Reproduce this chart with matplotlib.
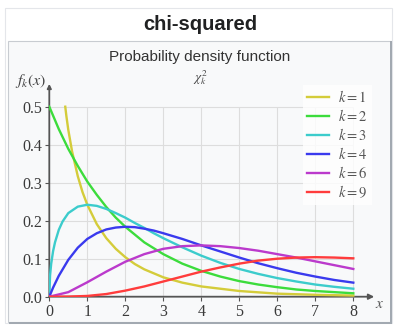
import matplotlib.pyplot as plt
from matplotlib.patches import Rectangle

W, H = 394, 326

# chi-squared densities
x_k1 = [0.42, 0.45, 0.5, 0.6, 0.75, 0.875, 1, 1.25, 1.5, 1.75, 2, 2.25, 2.5, 3,
        3.5, 4, 5, 6, 7, 8]
y_k1 = [0.500, 0.475, 0.439, 0.382, 0.317, 0.275, 0.242, 0.191, 0.154, 0.126,
        0.104, 0.086, 0.072, 0.051, 0.037, 0.027, 0.015, 0.008, 0.005, 0.003]

x_k2 = [0, 0.25, 0.5, 0.75, 1, 1.25, 1.5, 1.75, 2, 2.5, 3, 3.5, 4, 4.5, 5, 5.5,
        6, 6.5, 7, 7.5, 8]
y_k2 = [0.500, 0.441, 0.389, 0.344, 0.303, 0.268, 0.236, 0.208, 0.184, 0.143,
        0.112, 0.087, 0.068, 0.053, 0.041, 0.032, 0.025, 0.019, 0.015, 0.012,
        0.009]

x_k3 = [0, 0.02, 0.05, 0.1, 0.15, 0.25, 0.35, 0.5, 0.75, 1, 1.25, 1.5, 1.75, 2,
        2.25, 2.5, 2.75, 3, 3.5, 4, 4.5, 5, 5.5, 6, 6.5, 7, 7.5, 8]
y_k3 = [0.0, 0.056, 0.087, 0.120, 0.143, 0.176, 0.198, 0.220, 0.237, 0.242,
        0.239, 0.231, 0.220, 0.208, 0.194, 0.181, 0.167, 0.154, 0.130, 0.108,
        0.089, 0.073, 0.060, 0.049, 0.040, 0.032, 0.026, 0.021]

x_k4 = [0, 0.1, 0.25, 0.5, 0.75, 1, 1.25, 1.5, 1.75, 2, 2.25, 2.5, 2.75, 3, 3.5,
        4, 4.5, 5, 5.5, 6, 6.5, 7, 7.5, 8]
y_k4 = [0.0, 0.024, 0.055, 0.097, 0.129, 0.152, 0.167, 0.177, 0.182, 0.184,
        0.183, 0.179, 0.174, 0.167, 0.152, 0.135, 0.119, 0.103, 0.088, 0.075,
        0.063, 0.053, 0.044, 0.037]

x_half = [0, 0.5, 1, 1.5, 2, 2.5, 3, 3.5, 4, 4.5, 5, 5.5, 6, 6.5, 7, 7.5, 8]
y_k6 = [0.0, 0.012, 0.038, 0.066, 0.092, 0.112, 0.126, 0.133, 0.135, 0.133,
        0.128, 0.121, 0.112, 0.103, 0.093, 0.083, 0.073]
y_k9 = [0.0, 0.0003, 0.002, 0.007, 0.016, 0.027, 0.040, 0.053, 0.066, 0.077,
        0.087, 0.095, 0.100, 0.103, 0.104, 0.103, 0.101]

labels = ['$k=1$', '$k=2$', '$k=3$', '$k=4$', '$k=6$', '$k=9$']
colors = ['#d4cc3a', '#3cdc3c', '#3ccccc', '#3a3aee', '#bb3acc', '#ff3c3c']

xticks = [0, 1, 2, 3, 4, 5, 6, 7, 8]
yticks = [0.0, 0.1, 0.2, 0.3, 0.4, 0.5]


def fx(px):
    return px / W


def fy(py):
    return 1 - py / H


plt.rcParams['mathtext.fontset'] = 'stix'
fig = plt.figure(figsize=(W / 100, H / 100), dpi=100)
fig.patch.set_facecolor('white')

# infobox frame
fig.patches.append(Rectangle((fx(5), fy(323)), fx(387), 315 / H, transform=fig.transFigure,
                             facecolor='white', edgecolor='#e4e6ea', lw=0.8, zorder=-3))
fig.patches.append(Rectangle((fx(8), fy(322)), fx(383), 281 / H, transform=fig.transFigure,
                             facecolor='#f8f9fa', edgecolor='#c8ccd1', lw=0.8, zorder=-2))
fig.patches.append(Rectangle((fx(9), fy(324)), fx(383), 2 / H, transform=fig.transFigure,
                             facecolor='#a2a9b1', edgecolor='none', zorder=-1))
fig.patches.append(Rectangle((fx(390), fy(323)), 2 / W, 282 / H, transform=fig.transFigure,
                             facecolor='#a2a9b1', edgecolor='none', zorder=-1))

fig.text(fx(200), fy(24), 'chi-squared', ha='center', va='center', fontsize=14.5,
         fontweight='bold', family='Liberation Sans', color='#202122')
fig.text(fx(200), fy(57), 'Probability density function', ha='center', va='center',
         fontsize=11, family='Liberation Sans', color='#333333')
fig.text(fx(200), fy(78), r'$\chi^2_k$', ha='center', va='center', fontsize=9.5, color='#444444')
fig.text(fx(31), fy(81), r'$f_k(x)$', ha='center', va='center', fontsize=11.5, color='#444444')

ax = fig.add_axes([fx(49.3), fy(296.7), 38 * 8.5 / W, 0.56 * 380 / H])
ax.set_zorder(1)
ax.patch.set_alpha(0)
ax.set_xlim(0, 8.5)
ax.set_ylim(0, 0.56)
for s in ax.spines.values():
    s.set_visible(False)

ax.vlines(xticks[1:], 0, 0.5, color='#dddddd', lw=0.8, zorder=1)
ax.hlines(yticks[1:], 0, 8, color='#dddddd', lw=0.8, zorder=1)

ax.plot(x_k1, y_k1, color=colors[0], lw=1.7, label=labels[0], zorder=3)
ax.plot(x_k2, y_k2, color=colors[1], lw=1.7, label=labels[1], zorder=3)
ax.plot(x_k3, y_k3, color=colors[2], lw=1.7, label=labels[2], zorder=3)
ax.plot(x_k4, y_k4, color=colors[3], lw=1.7, label=labels[3], zorder=3)
ax.plot(x_half, y_k6, color=colors[4], lw=1.7, label=labels[4], zorder=3)
ax.plot(x_half, y_k9, color=colors[5], lw=1.7, label=labels[5], zorder=4)

# axes with arrows
ax.annotate('', xy=(8.55, 0), xytext=(0, 0), annotation_clip=False, zorder=2,
            arrowprops=dict(arrowstyle='-|>', color='#555555', lw=1.3, mutation_scale=8,
                            shrinkA=0, shrinkB=0))
ax.annotate('', xy=(0, 0.56), xytext=(0, 0), annotation_clip=False, zorder=2,
            arrowprops=dict(arrowstyle='-|>', color='#555555', lw=1.3, mutation_scale=6,
                            shrinkA=0, shrinkB=0))
ax.text(8.7, -0.018, '$x$', ha='center', va='center', fontsize=11, color='#555555')

ax.set_xticks(xticks)
ax.set_yticks(yticks)
ax.set_xticklabels([str(t) for t in xticks])
ax.set_yticklabels(['%.1f' % t for t in yticks])
ax.tick_params(length=3, width=0.8, color='#555555', labelcolor='#3a3a3a', labelsize=11.5, pad=2)
for lab in ax.get_xticklabels() + ax.get_yticklabels():
    lab.set_family('Liberation Serif')

leg = ax.legend(loc='upper left', bbox_to_anchor=(fx(303), fy(85)),
                bbox_transform=fig.transFigure, frameon=True, fancybox=False,
                fontsize=10.5, handlelength=1.5, handletextpad=0.6, labelspacing=0.2,
                borderpad=0.3, borderaxespad=0)
leg.get_frame().set_facecolor('white')
leg.get_frame().set_edgecolor('none')
for t in leg.get_texts():
    t.set_color('#555555')

fig.savefig('out.png', dpi=100)
